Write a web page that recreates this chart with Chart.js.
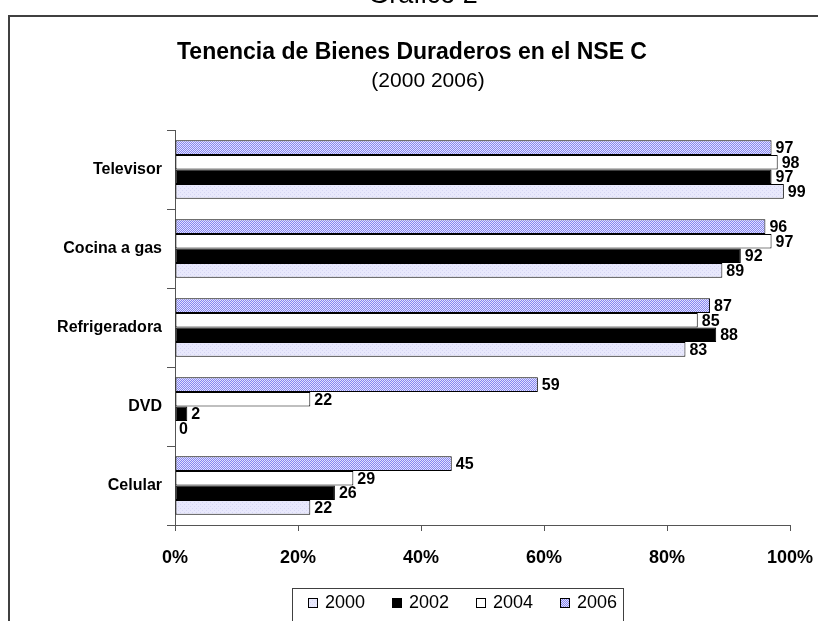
<!DOCTYPE html>
<html>
<head>
<meta charset="utf-8">
<script src="https://cdn.jsdelivr.net/npm/chart.js@4.4.1/dist/chart.umd.min.js"></script>
<style>
  html, body { margin: 0; padding: 0; background: #fff; }
  #wrap { width: 818px; height: 621px; position: relative; }
</style>
</head>
<body>
<div id="wrap"><canvas id="c" width="818" height="621"></canvas></div>
<script>
// Tenencia de bienes duraderos, NSE C (valores en %)
const categorias = ["Televisor", "Cocina a gas", "Refrigeradora", "DVD", "Celular"];
const v2000 = [99, 89, 83, 0, 22];
const v2002 = [97, 92, 88, 2, 26];
const v2004 = [98, 97, 85, 22, 29];
const v2006 = [97, 96, 87, 59, 45];
const ticksX = [0, 20, 40, 60, 80, 100];

const FONT = "'Liberation Sans', Arial, sans-serif";

// tramas tipo Excel
function trama(base, linea, diag) {
  const p = document.createElement("canvas");
  p.width = 4; p.height = 4;
  const g = p.getContext("2d");
  g.fillStyle = base;
  g.fillRect(0, 0, 4, 4);
  g.fillStyle = linea;
  if (diag) {
    for (let i = 0; i < 4; i++) g.fillRect(i, 3 - i, 1, 1);
    for (let i = 0; i < 4; i++) g.fillRect((i + 2) % 4, 3 - i, 1, 1);
  } else {
    g.fillRect(0, 0, 1, 1);
    g.fillRect(2, 2, 1, 1);
  }
  return document.getElementById("c").getContext("2d").createPattern(p, "repeat");
}
const lavanda = trama("#e8e8fc", "#d6d6f4", false);
const rayado = trama("#e2e2ff", "#8686f0", true);

// orden de arriba hacia abajo dentro de cada grupo: 2006, 2004, 2002, 2000
const datasets = [
  { label: "2006", data: v2006, backgroundColor: rayado },
  { label: "2004", data: v2004, backgroundColor: "#ffffff" },
  { label: "2002", data: v2002, backgroundColor: "#000000" },
  { label: "2000", data: v2000, backgroundColor: lavanda },
].map((d) => ({
  ...d,
  borderColor: "#000",
  borderWidth: 1,
  borderSkipped: false,
  categoryPercentage: 0.74,
  barPercentage: 1,
}));

const marco = {
  id: "marco",
  beforeDraw(chart) {
    const ctx = chart.ctx;
    ctx.save();
    ctx.fillStyle = "#000";
    ctx.textAlign = "center";
    ctx.font = "27px " + FONT;
    ctx.textBaseline = "alphabetic";
    ctx.fillText("Gráfico 2", 423, 3);
    ctx.strokeStyle = "#404040";
    ctx.lineWidth = 2;
    ctx.strokeRect(9, 16, 830, 640);
    ctx.textBaseline = "middle";
    ctx.font = "bold 23px " + FONT;
    ctx.fillText("Tenencia de Bienes Duraderos en el NSE C", 412, 53);
    ctx.font = "21px " + FONT;
    ctx.fillText("(2000 2006)", 428, 81);
    ctx.restore();
  },
};

const etiquetas = {
  id: "etiquetas",
  afterDatasetsDraw(chart) {
    const ctx = chart.ctx;
    ctx.save();
    ctx.fillStyle = "#000";
    ctx.font = "bold 16px " + FONT;
    ctx.textAlign = "left";
    ctx.textBaseline = "middle";
    chart.data.datasets.forEach((ds, i) => {
      chart.getDatasetMeta(i).data.forEach((bar, j) => {
        ctx.fillText(String(ds.data[j]), bar.x + 4, bar.y + 1);
      });
    });
    ctx.restore();
  },
};

// leyenda con recuadro, en orden 2000..2006
const leyenda = {
  id: "leyenda",
  afterDraw(chart) {
    const ctx = chart.ctx;
    const items = chart.data.datasets.slice().reverse();
    ctx.save();
    ctx.strokeStyle = "#404040";
    ctx.lineWidth = 1;
    ctx.strokeRect(292.5, 588.5, 331, 40);
    ctx.font = "18px " + FONT;
    ctx.textBaseline = "middle";
    ctx.textAlign = "left";
    items.forEach((ds, k) => {
      const x = 308 + k * 84;
      ctx.fillStyle = ds.backgroundColor;
      ctx.fillRect(x, 598, 9, 9);
      ctx.strokeStyle = "#000";
      ctx.strokeRect(x + 0.5, 598.5, 9, 9);
      ctx.fillStyle = "#000";
      ctx.fillText(ds.label, x + 17, 603);
    });
    ctx.restore();
  },
};

new Chart(document.getElementById("c"), {
  type: "bar",
  data: { labels: categorias, datasets },
  plugins: [marco, etiquetas, leyenda],
  options: {
    indexAxis: "y",
    responsive: false,
    animation: false,
    layout: { padding: { left: 0, right: 28, top: 130, bottom: 46 } },
    plugins: {
      legend: { display: false },
      tooltip: { enabled: false },
    },
    scales: {
      x: {
        min: 0,
        max: 100,
        afterBuildTicks(s) { s.ticks = ticksX.map((v) => ({ value: v })); },
        afterFit(s) {
          s.height = 50;
          s.paddingLeft = 0;
          s.paddingRight = 0;
        },
        ticks: {
          color: "#000",
          padding: 16,
          font: { family: FONT, size: 18, weight: "bold" },
          callback: (v) => v + "%",
        },
        grid: { drawOnChartArea: false, drawTicks: true, tickLength: 6, color: "#555" },
        border: { display: true, color: "#555", width: 1 },
      },
      y: {
        afterFit(s) {
          s.width = 175;
          s.paddingTop = 0;
          s.paddingBottom = 0;
        },
        ticks: {
          color: "#000",
          padding: 5,
          font: { family: FONT, size: 16, weight: "bold" },
        },
        grid: { offset: true, drawOnChartArea: false, drawTicks: true, tickLength: 8, color: "#555" },
        border: { display: true, color: "#555", width: 1 },
      },
    },
  },
});
</script>
</body>
</html>
